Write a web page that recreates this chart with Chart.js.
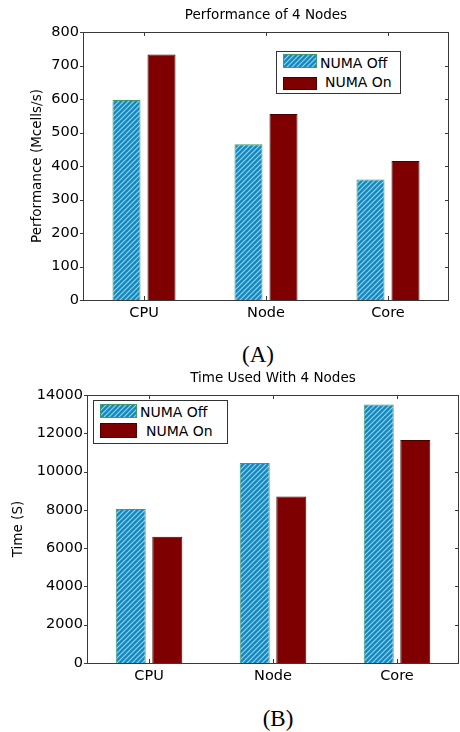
<!DOCTYPE html>
<html>
<head>
<meta charset="utf-8">
<script src="https://cdn.jsdelivr.net/npm/chart.js@4.4.1/dist/chart.umd.min.js"></script>
<style>
  body { margin: 0; background: #fff; width: 460px; height: 732px; position: relative; overflow: hidden; }
  .wrap { position: absolute; left: 0; width: 460px; height: 330px; }
  .legend { position: absolute; border: 1px solid #333; background: #fff; font-family: 'DejaVu Sans', sans-serif; font-size: 14px; color: #000; }
  .legend .sw { position: absolute; box-sizing: border-box; }
  .legend .lbl { position: absolute; white-space: nowrap; line-height: 16px; }
  .cap { position: absolute; font-family: 'Liberation Serif', 'Times New Roman', serif; font-size: 23px; color: #000; transform: translate(-50%, -50%); }
</style>
</head>
<body>
<div class="wrap" style="top:0"><canvas id="perf"></canvas></div>
<div class="legend" id="leg1" style="left:276px;top:51px;width:123px;height:41px"></div>
<div class="cap" style="left:258px;top:355px">(A)</div>
<div class="wrap" style="top:365px"><canvas id="time"></canvas></div>
<div class="legend" id="leg2" style="left:93px;top:400px;width:133px;height:42px"></div>
<div class="cap" style="left:278px;top:719px">(B)</div>
<script>
// categories et valeurs
const categories = ["CPU", "Node", "Core"];
const seriesNames = ["NUMA Off", "NUMA On"];

const perfOff = [597, 465, 360];
const perfOn = [733, 555, 415];
const perfTicks = [0, 100, 200, 300, 400, 500, 600, 700, 800];

const timeOff = [8050, 10450, 13500];
const timeOn = [6600, 8700, 11650];
const timeTicks = [0, 2000, 4000, 6000, 8000, 10000, 12000, 14000];

Chart.defaults.font.family = "'DejaVu Sans', sans-serif";
Chart.defaults.color = "#000";

// motif hachuré bleu pour "NUMA Off"
function makeHatch() {
  const c = document.createElement("canvas");
  c.width = 5; c.height = 5;
  const g = c.getContext("2d");
  g.fillStyle = "#1a86c0";
  g.fillRect(0, 0, 5, 5);
  g.strokeStyle = "#8adcf0";
  g.lineWidth = 1.1;
  g.beginPath();
  g.moveTo(-1, 6); g.lineTo(6, -1);
  g.moveTo(-1, 1); g.lineTo(1, -1);
  g.moveTo(4, 6); g.lineTo(6, 4);
  g.stroke();
  return c;
}
const hatchCanvas = makeHatch();
const hatch = document.createElement("canvas").getContext("2d").createPattern(hatchCanvas, "repeat");
const offBorder = "#3f9c6a";
const onColor = "#7f0000";
const onBorder = "#4a0000";

// cadre + petites graduations façon matlab
const boxPlugin = {
  id: "box",
  afterDraw(chart) {
    const { ctx, chartArea: a, scales: { x, y } } = chart;
    ctx.save();
    ctx.strokeStyle = "#3a3a3a";
    ctx.lineWidth = 1;
    ctx.strokeRect(a.left + 0.5, a.top + 0.5, a.right - a.left - 1, a.bottom - a.top);
    ctx.beginPath();
    y.ticks.forEach((t, i) => {
      const py = Math.round(y.getPixelForTick(i)) + 0.5;
      ctx.moveTo(a.left - 3, py); ctx.lineTo(a.left + 1, py);
      ctx.moveTo(a.right - 4, py); ctx.lineTo(a.right, py);
    });
    x.ticks.forEach((t, i) => {
      const px = Math.round(x.getPixelForTick(i)) + 0.5;
      ctx.moveTo(px, a.bottom); ctx.lineTo(px, a.bottom - 4);
      ctx.moveTo(px, a.top); ctx.lineTo(px, a.top + 4);
    });
    ctx.stroke();
    ctx.restore();
  }
};

function makeChart(id, cfg) {
  return new Chart(document.getElementById(id), {
    type: "bar",
    data: {
      labels: categories,
      datasets: [
        { label: seriesNames[0], data: cfg.off, backgroundColor: hatch, borderColor: offBorder, borderWidth: 1,
          categoryPercentage: cfg.cat, barPercentage: cfg.bar },
        { label: seriesNames[1], data: cfg.on, backgroundColor: onColor, borderColor: onBorder, borderWidth: 1,
          categoryPercentage: cfg.cat, barPercentage: cfg.bar },
      ],
    },
    options: {
      responsive: false,
      animation: false,
      layout: { padding: { left: 0, right: cfg.padRight, top: 0, bottom: 0 } },
      plugins: {
        legend: { display: false },
        tooltip: { enabled: false },
        title: {
          display: true,
          text: cfg.title,
          fullSize: false,
          font: { size: 13.5, weight: "normal" },
          padding: { top: cfg.titleTop, bottom: cfg.titleBottom },
        },
      },
      scales: {
        x: {
          grid: { display: false, drawTicks: false },
          border: { display: false },
          ticks: { font: { size: 14.5 }, padding: 5 },
          afterFit(s) { s.height = cfg.xHeight; },
        },
        y: {
          min: 0,
          max: cfg.ticks[cfg.ticks.length - 1],
          afterBuildTicks(s) { s.ticks = cfg.ticks.map(v => ({ value: v })); },
          grid: { display: false, drawTicks: false },
          border: { display: false },
          ticks: { font: { size: 14.5 }, padding: 4, callback: v => String(v) },
          title: { display: true, text: cfg.yTitle, font: { size: 13.5 }, padding: { top: cfg.yTitlePad, bottom: 0 } },
          afterFit(s) { s.width = cfg.yWidth; },
        },
      },
    },
    plugins: [boxPlugin],
  });
}

const perfCanvas = document.getElementById("perf");
perfCanvas.width = 460; perfCanvas.height = 330;
const timeCanvas = document.getElementById("time");
timeCanvas.width = 460; timeCanvas.height = 330;

const perfChart = makeChart("perf", {
  off: perfOff, on: perfOn, ticks: perfTicks,
  title: "Performance of 4 Nodes", yTitle: "Performance (Mcells/s)",
  cat: 0.574, bar: 0.8, padRight: 11, titleTop: 7, titleBottom: 8.8,
  xHeight: 30, yWidth: 83, yTitlePad: 29,
});

const timeChart = makeChart("time", {
  off: timeOff, on: timeOn, ticks: timeTicks,
  title: "Time Used With 4 Nodes", yTitle: "Time (S)",
  cat: 0.59, bar: 0.82, padRight: 1, titleTop: 5, titleBottom: 8.8,
  xHeight: 32, yWidth: 87, yTitlePad: 10,
});

// légendes html à l'intérieur des axes
function buildLegend(el, chart, rows) {
  chart.data.datasets.forEach((ds, i) => {
    const r = rows[i];
    const sw = document.createElement("div");
    sw.className = "sw";
    sw.style.left = r.sx + "px"; sw.style.top = r.sy + "px";
    sw.style.width = r.sw + "px"; sw.style.height = r.sh + "px";
    sw.style.border = "1px solid " + ds.borderColor;
    if (i === 0) sw.style.backgroundImage = "url(" + hatchCanvas.toDataURL() + ")";
    else sw.style.background = ds.backgroundColor;
    const lbl = document.createElement("div");
    lbl.className = "lbl";
    lbl.textContent = ds.label;
    lbl.style.left = r.tx + "px"; lbl.style.top = r.ty + "px";
    el.appendChild(sw); el.appendChild(lbl);
  });
}
buildLegend(document.getElementById("leg1"), perfChart, [
  { sx: 6, sy: 2, sw: 34, sh: 14, tx: 43, ty: 3 },
  { sx: 6, sy: 25, sw: 34, sh: 13, tx: 48, ty: 22 },
]);
buildLegend(document.getElementById("leg2"), timeChart, [
  { sx: 6, sy: 3, sw: 37, sh: 14, tx: 46, ty: 3 },
  { sx: 6, sy: 22, sw: 37, sh: 15, tx: 52, ty: 22 },
]);
</script>
</body>
</html>
